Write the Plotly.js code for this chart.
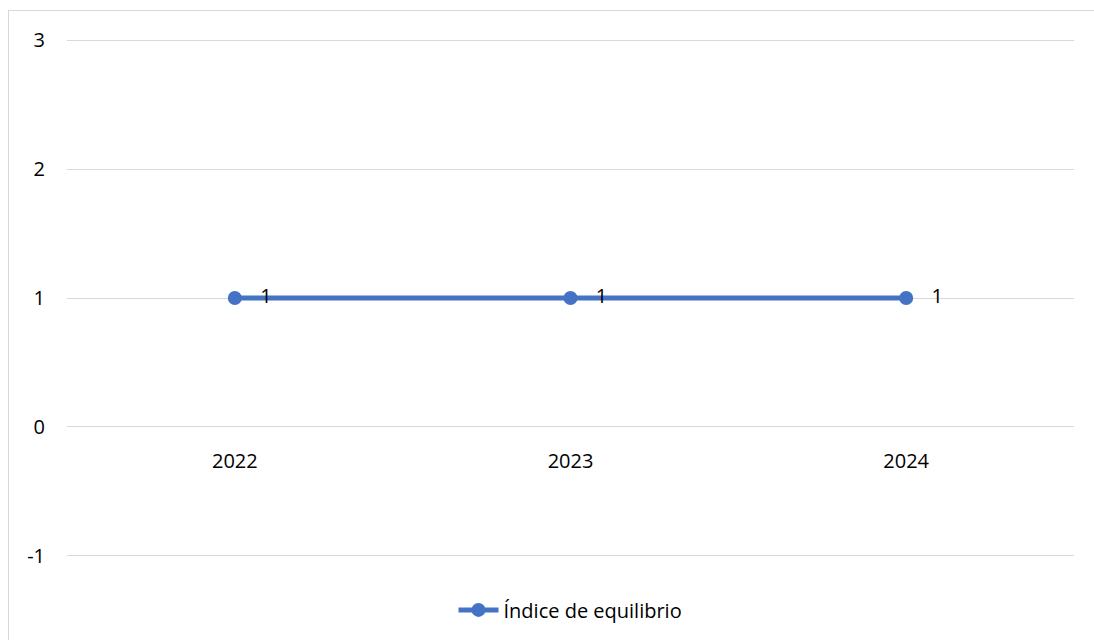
<!DOCTYPE html>
<html>
<head>
<meta charset="utf-8">
<script src="https://cdn.plot.ly/plotly-3.0.1.min.js"></script>
<style>
  html, body { margin: 0; padding: 0; background: #ffffff; overflow: hidden; width: 1094px; height: 640px; }
  #frame { position: absolute; left: 8px; top: 10px; border-left: 1px solid #d9d9d9; border-top: 1px solid #d9d9d9; }
  #chart { width: 1085px; height: 629px; }
</style>
</head>
<body>
<div id="frame"><div id="chart"></div></div>
<script>
const categories = ['2022', '2023', '2024'];
const values = [1, 1, 1];
const seriesName = 'Índice de equilibrio';
const yTicks = [-1, 0, 1, 2, 3];

const fontFamily = '"Open Sans", "Noto Sans", sans-serif';

const trace = {
  x: categories,
  y: values,
  name: seriesName,
  type: 'scatter',
  mode: 'lines+markers+text',
  text: values.map(v => '   ' + String(v)),
  textposition: 'middle right',
  textfont: { family: fontFamily, size: 20, color: '#000000' },
  line: { color: '#4472C4', width: 5 },
  marker: { color: '#4472C4', size: 14 },
  cliponaxis: false
};

const layout = {
  width: 1085,
  height: 629,
  margin: { l: 58, r: 20, t: 28, b: 82 },
  paper_bgcolor: '#ffffff',
  plot_bgcolor: '#ffffff',
  font: { family: fontFamily, size: 20, color: '#000000' },
  showlegend: true,
  legend: {
    orientation: 'h',
    x: 0.5, xanchor: 'center',
    y: -0.1, yanchor: 'middle',
    font: { family: fontFamily, size: 20, color: '#000000' },
    itemwidth: 40
  },
  xaxis: {
    type: 'category',
    range: [-0.5, 2.5],
    anchor: 'free',
    position: 0.25,
    showgrid: false,
    showline: false,
    zeroline: false,
    ticks: '',
    ticklabelstandoff: 19,
    tickfont: { family: fontFamily, size: 20, color: '#000000' }
  },
  yaxis: {
    range: [-1.008, 3.008],
    tickvals: yTicks,
    ticktext: yTicks.map(String),
    showgrid: true,
    gridcolor: '#d9d9d9',
    gridwidth: 1,
    zeroline: false,
    showline: false,
    ticks: '',
    ticklabelstandoff: 21,
    tickfont: { family: fontFamily, size: 20, color: '#000000' }
  }
};

Plotly.newPlot('chart', [trace], layout, { displayModeBar: false, staticPlot: true });
</script>
</body>
</html>
